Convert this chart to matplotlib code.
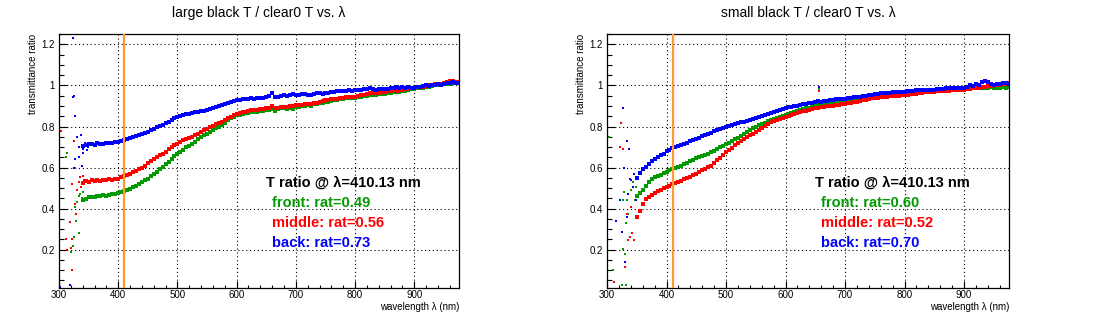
import numpy as np
import matplotlib
matplotlib.use("Agg")
import matplotlib.pyplot as plt
from matplotlib.ticker import MultipleLocator, FuncFormatter

plt.rcParams['font.family'] = ['Liberation Sans', 'DejaVu Sans']

# ---- data ----------------------------------------------------------------
# left panel: band sampled every 5 nm from 340 to 975
wl_left = np.arange(340, 980, 5)
large_back = [
    0.705, 0.712, 0.717, 0.715, 0.710, 0.720, 0.715, 0.717, 0.722, 0.718,
    0.720, 0.725, 0.725, 0.728, 0.733, 0.738, 0.742, 0.750, 0.755, 0.760,
    0.765, 0.770, 0.774, 0.782, 0.790, 0.797, 0.802, 0.807, 0.815, 0.823,
    0.832, 0.840, 0.847, 0.850, 0.855, 0.860, 0.863, 0.867, 0.870, 0.872,
    0.875, 0.877, 0.880, 0.885, 0.890, 0.895, 0.900, 0.904, 0.910, 0.915,
    0.920, 0.924, 0.928, 0.930, 0.932, 0.935, 0.932, 0.937, 0.935, 0.940,
    0.940, 0.938, 0.945, 0.950, 0.965, 0.945, 0.945, 0.950, 0.952, 0.950,
    0.955, 0.958, 0.953, 0.955, 0.958, 0.960, 0.955, 0.955, 0.957, 0.962,
    0.963, 0.960, 0.961, 0.965, 0.968, 0.970, 0.972, 0.975, 0.975, 0.975,
    0.977, 0.975, 0.977, 0.980, 0.980, 0.982, 0.985, 0.990, 0.982, 0.980,
    0.983, 0.982, 0.984, 0.985, 0.988, 0.990, 0.992, 0.990, 0.995, 0.988,
    0.992, 0.990, 0.990, 0.995, 0.995, 0.998, 1.000, 0.998, 1.000, 1.003,
    1.005, 1.000, 1.008, 1.010, 1.010, 1.015, 1.012, 1.010]
large_middle = [
    0.525, 0.535, 0.530, 0.538, 0.535, 0.540, 0.535, 0.540, 0.538, 0.542,
    0.540, 0.545, 0.546, 0.552, 0.557, 0.565, 0.570, 0.580, 0.585, 0.595,
    0.600, 0.610, 0.620, 0.630, 0.640, 0.650, 0.660, 0.668, 0.678, 0.690,
    0.698, 0.708, 0.717, 0.725, 0.732, 0.740, 0.745, 0.750, 0.758, 0.766,
    0.775, 0.782, 0.790, 0.796, 0.803, 0.810, 0.818, 0.823, 0.832, 0.840,
    0.848, 0.856, 0.863, 0.866, 0.870, 0.873, 0.875, 0.880, 0.880, 0.882,
    0.885, 0.886, 0.888, 0.892, 0.898, 0.888, 0.892, 0.895, 0.897, 0.895,
    0.898, 0.900, 0.904, 0.905, 0.905, 0.908, 0.908, 0.912, 0.915, 0.915,
    0.920, 0.925, 0.928, 0.930, 0.932, 0.935, 0.935, 0.938, 0.940, 0.942,
    0.945, 0.945, 0.945, 0.950, 0.952, 0.955, 0.958, 0.962, 0.965, 0.962,
    0.965, 0.968, 0.970, 0.972, 0.975, 0.978, 0.975, 0.980, 0.980, 0.985,
    0.985, 0.988, 0.990, 0.992, 0.995, 0.995, 0.998, 1.000, 1.000, 1.005,
    1.005, 1.008, 1.010, 1.015, 1.020, 1.022, 1.018, 1.015]
large_front = [
    0.440, 0.448, 0.455, 0.458, 0.458, 0.462, 0.460, 0.465, 0.463, 0.468,
    0.470, 0.472, 0.476, 0.482, 0.488, 0.490, 0.495, 0.505, 0.512, 0.520,
    0.528, 0.537, 0.546, 0.558, 0.570, 0.580, 0.592, 0.603, 0.615, 0.628,
    0.640, 0.655, 0.668, 0.678, 0.688, 0.698, 0.707, 0.717, 0.727, 0.737,
    0.747, 0.757, 0.766, 0.775, 0.785, 0.793, 0.800, 0.806, 0.818, 0.830,
    0.840, 0.848, 0.855, 0.858, 0.862, 0.865, 0.866, 0.870, 0.872, 0.873,
    0.875, 0.878, 0.880, 0.882, 0.885, 0.878, 0.884, 0.888, 0.890, 0.887,
    0.890, 0.885, 0.896, 0.895, 0.898, 0.900, 0.905, 0.900, 0.908, 0.912,
    0.915, 0.915, 0.920, 0.922, 0.925, 0.928, 0.930, 0.935, 0.935, 0.937,
    0.938, 0.940, 0.941, 0.943, 0.945, 0.948, 0.950, 0.952, 0.953, 0.955,
    0.957, 0.958, 0.960, 0.962, 0.965, 0.966, 0.968, 0.970, 0.972, 0.975,
    0.978, 0.982, 0.985, 0.988, 0.990, 0.990, 0.992, 0.995, 0.997, 1.000,
    1.000, 1.003, 1.005, 1.005, 1.008, 1.010, 1.012, 1.010]

# scattered points below 350 nm (left)
large_back_x = [302, 312, 319, 324, 324, 326, 327, 325, 327, 331, 334, 337, 338, 334, 340, 341, 344, 347, 349]
large_back_y = [0.02, 1.25, 0.026, 1.23, 0.945, 0.95, 0.85, 0.60, 0.64, 0.75, 0.70, 0.76, 0.61, 0.65, 0.69, 0.67, 0.72, 0.685, 0.70]
large_middle_x = [300, 304, 311, 313, 320, 318, 322, 322, 322, 325, 327, 327, 329, 330, 333, 335, 337, 340, 342]
large_middle_y = [0.213, 0.777, 0.25, 0.20, 0.21, 0.335, 0.10, 0.25, 0.52, 0.73, 0.60, 0.42, 0.375, 0.49, 0.53, 0.555, 0.505, 0.56, 0.54]
large_front_x = [312, 313, 321, 323, 325, 327, 329, 331, 333, 333, 335, 338, 340, 343]
large_front_y = [0.65, 0.67, 0.19, 0.22, 0.26, 0.41, 0.34, 0.43, 0.28, 0.46, 0.47, 0.45, 0.48, 0.44]

# right panel: band sampled every 5 nm from 350 to 975
wl_right = np.arange(350, 980, 5)
small_back = [
    0.550, 0.575, 0.595, 0.605, 0.615, 0.630, 0.640, 0.650, 0.660, 0.668,
    0.680, 0.688, 0.695, 0.700, 0.705, 0.710, 0.715, 0.722, 0.728, 0.735,
    0.740, 0.745, 0.752, 0.758, 0.765, 0.770, 0.776, 0.782, 0.788, 0.794,
    0.800, 0.804, 0.808, 0.812, 0.816, 0.820, 0.824, 0.828, 0.832, 0.836,
    0.840, 0.845, 0.850, 0.855, 0.860, 0.865, 0.870, 0.875, 0.880, 0.885,
    0.890, 0.893, 0.896, 0.899, 0.902, 0.905, 0.908, 0.911, 0.914, 0.917,
    0.920, 0.925, 0.922, 0.924, 0.926, 0.928, 0.930, 0.932, 0.933, 0.934,
    0.935, 0.938, 0.940, 0.942, 0.944, 0.946, 0.948, 0.950, 0.952, 0.955,
    0.958, 0.960, 0.962, 0.963, 0.964, 0.965, 0.966, 0.967, 0.968, 0.969,
    0.970, 0.972, 0.974, 0.975, 0.976, 0.977, 0.978, 0.978, 0.979, 0.980,
    0.980, 0.982, 0.984, 0.985, 0.986, 0.987, 0.988, 0.988, 0.989, 0.990,
    0.990, 0.995, 1.000, 0.998, 1.005, 1.000, 1.015, 1.020, 1.015, 1.005,
    1.000, 1.005, 1.005, 1.010, 1.010, 1.008]
small_middle = [
    0.360, 0.390, 0.420, 0.445, 0.455, 0.465, 0.475, 0.485, 0.492, 0.498,
    0.505, 0.512, 0.520, 0.525, 0.530, 0.535, 0.542, 0.550, 0.556, 0.563,
    0.570, 0.578, 0.586, 0.594, 0.602, 0.610, 0.622, 0.635, 0.648, 0.662,
    0.675, 0.686, 0.697, 0.708, 0.719, 0.730, 0.739, 0.748, 0.757, 0.766,
    0.775, 0.784, 0.793, 0.802, 0.811, 0.820, 0.825, 0.830, 0.835, 0.840,
    0.845, 0.850, 0.855, 0.860, 0.865, 0.870, 0.874, 0.878, 0.882, 0.886,
    0.890, 0.892, 0.894, 0.896, 0.898, 0.900, 0.902, 0.904, 0.906, 0.908,
    0.910, 0.913, 0.916, 0.919, 0.922, 0.925, 0.928, 0.931, 0.934, 0.937,
    0.940, 0.941, 0.943, 0.944, 0.945, 0.947, 0.948, 0.949, 0.950, 0.952,
    0.953, 0.955, 0.957, 0.958, 0.960, 0.962, 0.964, 0.966, 0.967, 0.968,
    0.970, 0.971, 0.972, 0.973, 0.974, 0.975, 0.976, 0.977, 0.978, 0.979,
    0.980, 0.982, 0.984, 0.986, 0.988, 0.990, 0.992, 0.994, 0.996, 0.998,
    1.000, 1.002, 1.004, 1.006, 1.008, 1.010]
small_front = [
    0.460, 0.478, 0.492, 0.510, 0.528, 0.545, 0.552, 0.560, 0.566, 0.572,
    0.580, 0.588, 0.595, 0.600, 0.603, 0.610, 0.615, 0.622, 0.630, 0.638,
    0.645, 0.650, 0.655, 0.662, 0.668, 0.675, 0.683, 0.690, 0.698, 0.706,
    0.715, 0.722, 0.730, 0.738, 0.745, 0.755, 0.765, 0.775, 0.785, 0.793,
    0.800, 0.806, 0.812, 0.818, 0.825, 0.830, 0.835, 0.840, 0.845, 0.850,
    0.855, 0.860, 0.865, 0.870, 0.875, 0.880, 0.885, 0.888, 0.892, 0.896,
    0.900, 0.903, 0.906, 0.910, 0.913, 0.917, 0.920, 0.922, 0.925, 0.928,
    0.930, 0.932, 0.935, 0.935, 0.938, 0.940, 0.942, 0.943, 0.945, 0.946,
    0.948, 0.950, 0.950, 0.952, 0.953, 0.954, 0.955, 0.955, 0.956, 0.957,
    0.958, 0.959, 0.960, 0.962, 0.963, 0.965, 0.966, 0.967, 0.968, 0.969,
    0.970, 0.971, 0.972, 0.973, 0.974, 0.975, 0.976, 0.977, 0.978, 0.979,
    0.980, 0.982, 0.984, 0.986, 0.988, 0.990, 0.990, 0.988, 0.990, 0.992,
    0.990, 0.988, 0.990, 0.992, 0.990, 0.992]

# scattered points below 350 nm (right) + the spike at 657 nm
small_back_x = [302, 327, 315, 322, 327, 329, 333, 337, 325, 331, 334, 335, 338, 341, 344, 345, 348, 657]
small_back_y = [1.25, 1.25, 0.34, 0.44, 0.89, 0.60, 0.73, 0.69, 0.285, 0.14, 0.36, 0.47, 0.545, 0.54, 0.505, 0.57, 0.44, 0.995]
small_middle_x = [313, 311, 324, 322, 327, 330, 331, 333, 335, 338, 340, 342, 345, 348, 657]
small_middle_y = [1.25, 0.04, 0.815, 0.70, 0.69, 0.115, 0.115, 0.375, 0.245, 0.26, 0.41, 0.28, 0.245, 0.36, 0.975]
small_front_x = [303, 310, 325, 332, 327, 330, 329, 327, 334, 332, 335, 340, 344, 347, 349, 657]
small_front_y = [0.75, 0.10, 0.026, 0.026, 0.205, 0.18, 0.48, 0.44, 0.44, 0.33, 0.375, 0.49, 0.53, 0.44, 0.505, 0.985]

lam_ref = 410.13
titles = ["large black T / clear0 T vs. \u03bb", "small black T / clear0 T vs. \u03bb"]
rat_left = ["0.49", "0.56", "0.73"]
rat_right = ["0.60", "0.52", "0.70"]
names = ["front", "middle", "back"]

GREEN = '#009900'
RED = '#ff0000'
BLUE = '#0000ff'
ORANGE = '#ff9933'

fig = plt.figure(figsize=(10.96, 3.24), dpi=100)
ax1 = fig.add_axes([59 / 1096, 36 / 324, 400 / 1096, 254 / 324])
ax2 = fig.add_axes([607 / 1096, 36 / 324, 402 / 1096, 254 / 324])


def ylab(v, pos):
    s = '%.1f' % v
    if s.endswith('.0'):
        s = s[:-2]
    return s


def draw_panel(ax, wl, front, middle, back, extras, title, rats):
    ax.set_xlim(300, 975.5)
    ax.set_ylim(0.013, 1.251)
    ax.grid(True, color='black', linestyle=(0, (1, 2.5)), linewidth=0.8)
    ax.set_axisbelow(True)

    ms = 2.7
    for (ex, ey), c in zip(extras, [GREEN, RED, BLUE]):
        ax.plot(ex, ey, 's', ms=2.0, mew=0, color=c, clip_on=True)
    ax.plot(wl, front, 's', ms=ms, mew=0, color=GREEN)
    ax.plot(wl, middle, 's', ms=ms, mew=0, color=RED)
    ax.plot(wl, back, 's', ms=ms, mew=0, color=BLUE)

    ax.axvline(lam_ref, color=ORANGE, lw=1.6, zorder=5)

    ax.xaxis.set_major_locator(MultipleLocator(100))
    ax.xaxis.set_minor_locator(MultipleLocator(20))
    ax.yaxis.set_major_locator(MultipleLocator(0.2))
    ax.yaxis.set_minor_locator(MultipleLocator(0.05))
    ax.yaxis.set_major_formatter(FuncFormatter(ylab))
    ax.tick_params(axis='both', which='both', direction='in', top=False, right=False,
                   labelsize=7, width=0.8)
    ax.tick_params(axis='y', which='major', length=6, pad=3)
    ax.tick_params(axis='y', which='minor', length=3.5)
    ax.tick_params(axis='x', which='major', length=5, pad=1.5)
    ax.tick_params(axis='x', which='minor', length=2.5)
    for sp in ax.spines.values():
        sp.set_linewidth(0.9)

    ax.set_title(title, fontsize=10, pad=12)
    ax.text(1.0, -0.075, "wavelength \u03bb (nm)", transform=ax.transAxes,
            ha='right', va='center', fontsize=7)
    ax.text(-0.065, 1.0, "transmittance ratio", transform=ax.transAxes,
            ha='center', va='top', rotation=90, fontsize=7)

    ax.text(650, 0.528, "T ratio @ \u03bb=%.2f nm" % lam_ref, fontsize=10.5,
            fontweight='bold', color='black', va='center', ha='left')
    for i, (nm, r, c) in enumerate(zip(names, rats, [GREEN, RED, BLUE])):
        ax.text(659, 0.426 - i * 0.098, "%s: rat=%s" % (nm, r), fontsize=10.5,
                fontweight='bold', color=c, va='center', ha='left')


draw_panel(ax1, wl_left, large_front, large_middle, large_back,
           [(large_front_x, large_front_y), (large_middle_x, large_middle_y),
            (large_back_x, large_back_y)], titles[0], rat_left)
draw_panel(ax2, wl_right, small_front, small_middle, small_back,
           [(small_front_x, small_front_y), (small_middle_x, small_middle_y),
            (small_back_x, small_back_y)], titles[1], rat_right)

fig.savefig('out.png', dpi=100)
